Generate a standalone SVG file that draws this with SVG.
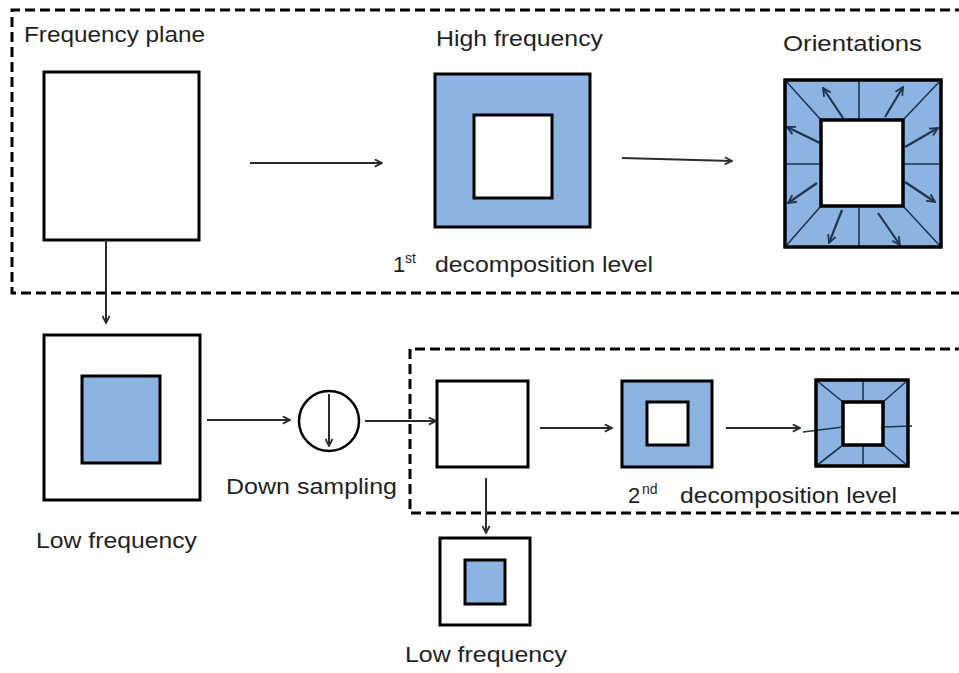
<svg xmlns="http://www.w3.org/2000/svg" width="959" height="673" viewBox="0 0 959 673">
<style>
.txt{font-family:"Liberation Sans",Arial,sans-serif;font-size:22px;fill:#1f1f1f}
.sup{font-family:"Liberation Sans",Arial,sans-serif;font-size:14px;fill:#1f1f1f}
.box{fill:#fff;stroke:#000;stroke-width:3}
.blue{fill:#8db3e2;stroke:#000;stroke-width:3}
.dash{fill:none;stroke:#000;stroke-width:3;stroke-dasharray:10 5}
.arr{fill:none;stroke:#2b2b2b;stroke-width:2;marker-end:url(#ah)}
.sec{fill:none;stroke:#1f3550;stroke-width:1.6}
.oar{fill:none;stroke:#1f3550;stroke-width:2.2;marker-end:url(#oh)}
</style>
<defs>
<marker id="ah" viewBox="0 0 10 10" refX="9" refY="5" markerWidth="9" markerHeight="9" markerUnits="userSpaceOnUse" orient="auto">
<path d="M1,1 L9,5 L1,9" fill="none" stroke="#2b2b2b" stroke-width="2"/>
</marker>
<marker id="oh" viewBox="0 0 10 10" refX="9" refY="5" markerWidth="10" markerHeight="10" markerUnits="userSpaceOnUse" orient="auto">
<path d="M1,1 L9,5 L1,9" fill="none" stroke="#1f3550" stroke-width="1.8"/>
</marker>
</defs>

<g id="frames">
<path class="dash" d="M965,10 H12 V293 H965"/>
<path class="dash" d="M965,349 H410 V513 H965"/>
</g>

<g id="freq-plane">
<rect class="box" x="44" y="72" width="155" height="168"/>
<text class="txt" x="24" y="42" textLength="181" lengthAdjust="spacingAndGlyphs">Frequency plane</text>
</g>

<g id="high-freq">
<rect class="blue" x="435" y="74" width="155" height="153"/>
<rect class="box" x="474" y="115" width="78" height="83"/>
<text class="txt" x="436" y="46" textLength="167" lengthAdjust="spacingAndGlyphs">High frequency</text>
</g>

<g id="level1-label">
<text class="txt" x="393" y="272">1</text>
<text class="sup" x="405" y="263">st</text>
<text class="txt" x="435" y="272" textLength="218" lengthAdjust="spacingAndGlyphs">decomposition level</text>
</g>

<g id="orientations">
<rect class="blue" x="785" y="80" width="156" height="167"/>
<rect class="box" x="821" y="120" width="82" height="86"/>
<path class="sec" d="M785,80 L821,120 M941,80 L903,120 M785,247 L821,206 M941,247 L903,206 M859,80 V120 M859,206 V247 M785,164 H821 M903,164 H941"/>
<path class="oar" d="M843,118 L823,88"/>
<path class="oar" d="M885,117 L903,87"/>
<path class="oar" d="M820,143 L787,127"/>
<path class="oar" d="M905,147 L938,128"/>
<path class="oar" d="M817,183 L788,203"/>
<path class="oar" d="M905,182 L935,202"/>
<path class="oar" d="M842,210 L829,243"/>
<path class="oar" d="M878,213 L900,245"/>
<rect x="785" y="80" width="156" height="167" fill="none" stroke="#000" stroke-width="3"/>
<rect x="821" y="120" width="82" height="86" fill="none" stroke="#000" stroke-width="3"/>
<text class="txt" x="783" y="51" textLength="139" lengthAdjust="spacingAndGlyphs">Orientations</text>
</g>

<g id="low-freq">
<rect class="box" x="44" y="335" width="156" height="165"/>
<rect class="blue" x="82" y="376" width="78" height="87"/>
<text class="txt" x="36" y="548" textLength="161" lengthAdjust="spacingAndGlyphs">Low frequency</text>
</g>

<g id="down-sampling">
<circle cx="329" cy="421" r="30" fill="#fff" stroke="#000" stroke-width="2.5"/>
<path class="arr" d="M329,394 V446"/>
<text class="txt" x="226" y="494" textLength="171" lengthAdjust="spacingAndGlyphs">Down sampling</text>
</g>

<g id="plane2">
<rect class="box" x="437" y="381" width="91" height="86"/>
</g>

<g id="high-freq2">
<rect class="blue" x="622" y="381" width="90" height="86"/>
<rect class="box" x="647" y="402" width="41" height="43"/>
</g>

<g id="orientations2">
<rect class="blue" x="816" y="380" width="92" height="86"/>
<rect class="box" x="843" y="402" width="40" height="43"/>
<path class="sec" d="M816,380 L843,402 M908,380 L883,402 M816,466 L843,445 M908,466 L883,445 M863,380 V402 M863,445 V466 M803,432 L843,427 M883,427 L912,426"/>
<rect x="816" y="380" width="92" height="86" fill="none" stroke="#000" stroke-width="3"/>
<rect x="843" y="402" width="40" height="43" fill="none" stroke="#000" stroke-width="3"/>
</g>

<g id="level2-label">
<text class="txt" x="628" y="503">2</text>
<text class="sup" x="642" y="494">nd</text>
<text class="txt" x="680" y="503" textLength="217" lengthAdjust="spacingAndGlyphs">decomposition level</text>
</g>

<g id="low-freq2">
<rect class="box" x="440" y="538" width="90" height="87"/>
<rect class="blue" x="465" y="560" width="40" height="44"/>
<text class="txt" x="405" y="662" textLength="162" lengthAdjust="spacingAndGlyphs">Low frequency</text>
</g>

<g id="connectors">
<path class="arr" d="M250,163 H382"/>
<path class="arr" d="M622,158 L732,161"/>
<path class="arr" d="M106,240 V323"/>
<path class="arr" d="M207,420 H290"/>
<path class="arr" d="M365,421 H436"/>
<path class="arr" d="M540,428 H612"/>
<path class="arr" d="M726,428 H800"/>
<path class="arr" d="M486,478 V533"/>
</g>
</svg>
